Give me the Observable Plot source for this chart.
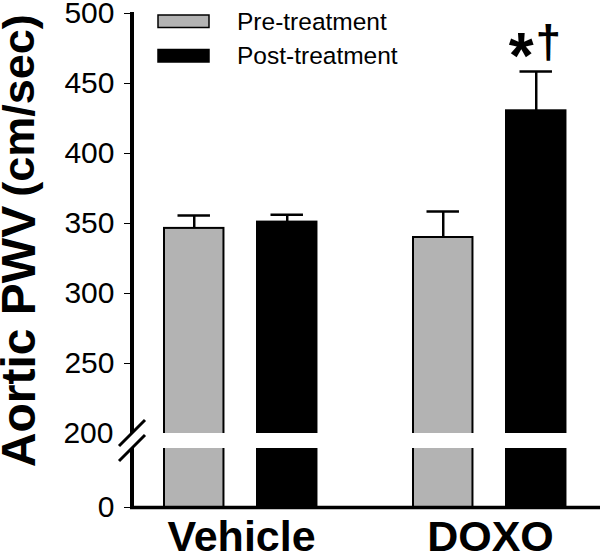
<!DOCTYPE html>
<html><head><meta charset="utf-8">
<script src="https://cdn.jsdelivr.net/npm/d3@7"></script>
<script src="https://cdn.jsdelivr.net/npm/@observablehq/plot@0.6"></script>
<style>
 html,body{margin:0;padding:0;background:#fff}
 #chart svg g.tick text{font-size:30px}
 #chart svg g.tick line{stroke-width:3px}
</style></head><body><div id="chart"></div><script>
// ---- data ----
const groups = ["Vehicle", "DOXO"];
const series = ["Pre-treatment", "Post-treatment"];
const preMean = [346.5, 340];
const preSEM = [9.2, 18.5];
const postMean = [351, 430.5];
const postSEM = [5.2, 28];
const yTicks = [0, 250, 300, 350, 400, 450, 500];
const breakLabel = [200];
const seriesColors = ["#b3b3b3", "#000000"];
const yTitle = ["Aortic PWV"];
const yUnit = ["(cm/sec)"];
const sigGroup = "DOXO";
const sigStar = ["*"];
const sigDagger = ["†"];

// ---- layout ----
const W = 600, H = 555, mL = 132, mR = 0, mT = 13, mB = 48;
const lowerTop = 50, breakHi = 200, yMax = 500;
// broken axis: display units (upper segment 1:1)
const upperPx = 420, lowerPx = 59, gapPx = 15;
const pxPerUnit = upperPx / (yMax - breakHi);
const lowerU = lowerPx / pxPerUnit, gapU = gapPx / pxPerUnit;
const brk = v => v <= lowerTop ? v * lowerU / lowerTop
  : v <= breakHi ? lowerU + (v - lowerTop) * gapU / (breakHi - lowerTop)
  : lowerU + gapU + (v - breakHi);
const unbrk = d => d <= lowerU ? d * lowerTop / lowerU
  : d <= lowerU + gapU ? lowerTop + (d - lowerU) * (breakHi - lowerTop) / gapU
  : d - lowerU - gapU + breakHi;

const pI = 0.124, pO = 0;
const frameW = W - mL - mR;
const step = frameW / (groups.length - pI + 2 * pO);
const bw = step * (1 - pI);
const barW = 60, preLeft = 32, postLeft = 125, capHalf = 16.5;
const preC = preLeft + barW / 2, postC = postLeft + barW / 2;

const rows = groups.flatMap((g, i) => [
  {group: g, series: series[0], mean: preMean[i], sem: preSEM[i]},
  {group: g, series: series[1], mean: postMean[i], sem: postSEM[i]}
]);
const pre = rows.filter(d => d.series === series[0]);
const post = rows.filter(d => d.series === series[1]);
const sigRow = post.filter(d => d.group === sigGroup);

function yAxisLine(index, scales, values, dim) {
  const y = v => scales.y(brk(v)), x0 = dim.marginLeft;
  const g = d3.create("svg:g").attr("stroke", "black").attr("fill", "none");
  g.append("line").attr("x1", x0).attr("x2", x0).attr("y1", y(yMax) - 1).attr("y2", y(breakHi)).attr("stroke-width", 4);
  g.append("line").attr("x1", x0).attr("x2", x0).attr("y1", y(lowerTop)).attr("y2", y(0) + 1.5).attr("stroke-width", 4);
  for (const v of [breakHi, lowerTop]) {
    g.append("line").attr("x1", x0 - 13).attr("y1", y(v) + 13).attr("x2", x0 + 13).attr("y2", y(v) - 13).attr("stroke-width", 3);
  }
  return g.node();
}

function legendMark(index, scales, values, dim) {
  const x0 = dim.marginLeft + 26, y0 = dim.marginTop;
  const g = d3.create("svg:g");
  series.forEach((s, i) => {
    const cy = y0 + 8 + i * 34.5;
    g.append("rect").attr("x", x0).attr("y", cy - 6).attr("width", 51).attr("height", 12.5)
      .attr("fill", scales.color(s)).attr("stroke", "black").attr("stroke-width", 1.5);
    g.append("text").attr("x", x0 + 79).attr("y", cy).attr("dy", "0.35em")
      .attr("text-anchor", "start").attr("font-size", 24.5).attr("fill", "black").text(s);
  });
  return g.node();
}

const chart = Plot.plot({
  width: W, height: H,
  marginLeft: mL, marginRight: mR, marginTop: mT, marginBottom: mB,
  style: {fontFamily: "'Liberation Sans', Arial, sans-serif", fontSize: "30px", color: "black", background: "white", overflow: "visible"},
  x: {domain: groups, paddingInner: pI, paddingOuter: pO, axis: null},
  y: {domain: [0, brk(yMax)], ticks: yTicks.map(brk), tickFormat: d => Math.round(unbrk(d)), tickSize: 8, tickPadding: 10, label: null},
  color: {domain: series, range: seriesColors},
  marks: [
    Plot.ruleX(pre, {x: "group", y1: d => brk(d.mean), y2: d => brk(d.mean + d.sem), dx: preC - bw / 2, stroke: "black", strokeWidth: 2.5}),
    Plot.ruleX(post, {x: "group", y1: d => brk(d.mean), y2: d => brk(d.mean + d.sem), dx: postC - bw / 2, stroke: "black", strokeWidth: 2.5}),
    Plot.tickY(pre, {x: "group", y: d => brk(d.mean + d.sem), insetLeft: preC - capHalf, insetRight: bw - preC - capHalf, stroke: "black", strokeWidth: 2.5}),
    Plot.tickY(post, {x: "group", y: d => brk(d.mean + d.sem), insetLeft: postC - capHalf, insetRight: bw - postC - capHalf, stroke: "black", strokeWidth: 2.5}),
    Plot.barY(pre, {x: "group", y: d => brk(d.mean), fill: "series", stroke: "black", strokeWidth: 2, insetLeft: preLeft, insetRight: bw - preLeft - barW}),
    Plot.barY(post, {x: "group", y: d => brk(d.mean), fill: "series", stroke: "black", strokeWidth: 2, insetLeft: postLeft, insetRight: bw - postLeft - barW}),
    Plot.rect([0], {y1: brk(lowerTop), y2: brk(breakHi), fill: "white"}),
    Plot.ruleY([0], {stroke: "black", strokeWidth: 3.5, insetLeft: -2}),
    yAxisLine,
    legendMark,
    Plot.text(breakLabel, {y: d => brk(d), text: d => d, frameAnchor: "left", dx: -19, textAnchor: "end", lineAnchor: "middle", fontSize: 30}),
    Plot.text(groups, {x: d => d, text: d => d, frameAnchor: "bottom", dy: 30, textAnchor: "middle", lineAnchor: "middle", fontSize: 43, fontWeight: "bold"}),
    Plot.text(yTitle, {text: d => d, frameAnchor: "left", rotate: -90, dx: -113, dy: 76, textAnchor: "middle", lineAnchor: "middle", fontSize: 48, fontWeight: "bold"}),
    Plot.text(yUnit, {text: d => d, frameAnchor: "left", rotate: -90, dx: -113, dy: -155, textAnchor: "middle", lineAnchor: "middle", fontSize: 45, fontWeight: "bold"}),
    Plot.text(sigRow, {x: "group", y: d => brk(d.mean + d.sem), text: () => sigStar[0], dx: postC - bw / 2 - 15, dy: -14, textAnchor: "middle", lineAnchor: "middle", fontSize: 64, fontWeight: "bold"}),
    Plot.text(sigRow, {x: "group", y: d => brk(d.mean + d.sem), text: () => sigDagger[0], dx: postC - bw / 2 + 12, dy: -28, textAnchor: "middle", lineAnchor: "middle", fontSize: 46, fontWeight: "bold"})
  ]
});
document.getElementById("chart").appendChild(chart);
</script></body></html>
